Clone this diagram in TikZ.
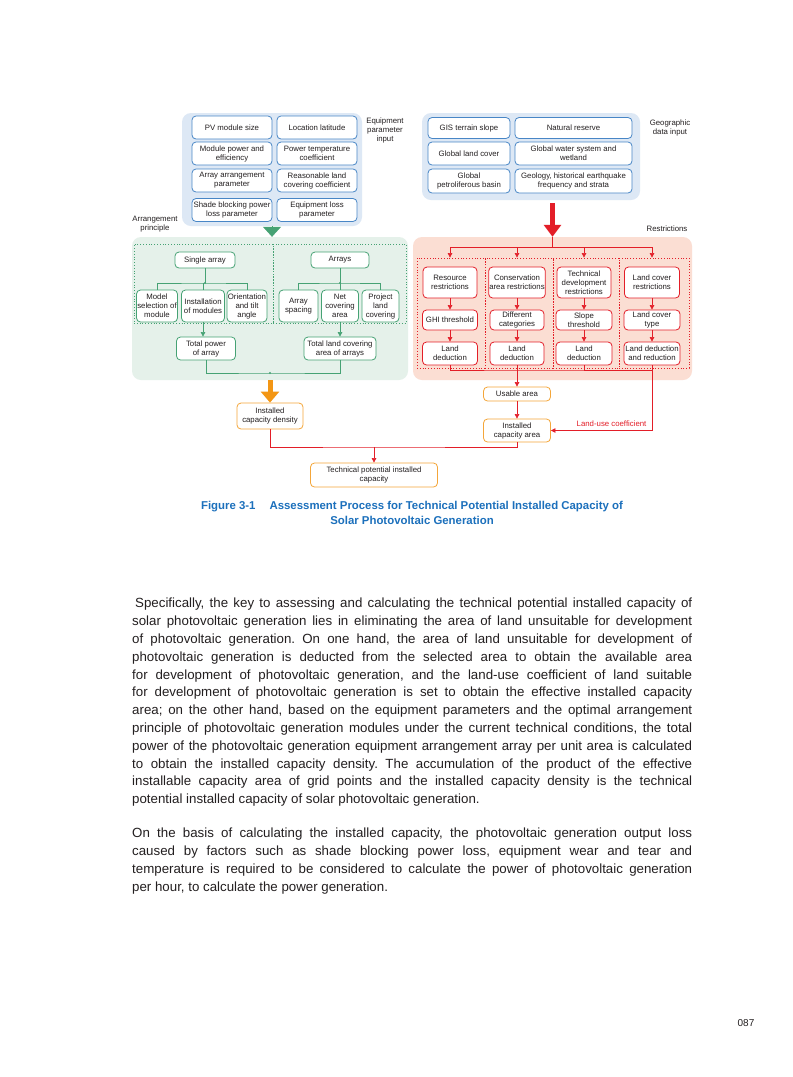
\documentclass[tikz,border=0pt]{standalone}
\usepackage{fontspec}
\setmainfont{Liberation Sans}
\usetikzlibrary{arrows.meta,positioning}
\definecolor{bluebg}{RGB}{221,232,245}
\definecolor{blueln}{RGB}{72,134,198}
\definecolor{greenbg}{RGB}{229,241,234}
\definecolor{greenln}{RGB}{70,162,116}
\definecolor{redbg}{RGB}{251,222,211}
\definecolor{redln}{RGB}{227,30,40}
\definecolor{orangeln}{RGB}{244,166,58}
\definecolor{orangear}{RGB}{243,150,20}
\definecolor{capblue}{RGB}{28,112,188}
\definecolor{inktext}{RGB}{35,31,32}
\frenchspacing
\begin{document}
\begin{tikzpicture}[x=1pt, y=-1pt, font=\fontsize{7.8}{9}\selectfont, text=inktext,
  panel/.style={rounded corners=9pt, inner sep=0pt},
  zone/.style={draw, dotted, line width=0.8pt, inner sep=0pt},
  box/.style={draw, fill=white, rounded corners=4pt, line width=0.8pt, align=center, inner sep=0.6pt},
  bbox/.style={box, draw=blueln, minimum width=80, minimum height=23},
  gbox/.style={box, draw=greenln, minimum height=32},
  rbox/.style={box, draw=redln},
  obox/.style={box, draw=orangeln},
  note/.style={align=center, inner sep=0pt},
  gline/.style={greenln, line width=0.6pt},
  rline/.style={redln, line width=0.6pt},
  garrow/.style={gline, -{Triangle[length=4.5pt,width=4.5pt]}},
  rarrow/.style={rline, -{Triangle[length=4.5pt,width=4.5pt]}}]
  \fill[white, use as bounding box] (0,0) rectangle (793,1077);

  \node[panel, fill=bluebg, minimum width=180, minimum height=113] (eqin) at (272,169.5) {};
  \node[panel, fill=bluebg, minimum width=218, minimum height=87] (geoin) at (531,156.5) {};
  \node[panel, fill=greenbg, minimum width=276, minimum height=143] (gpanel) at (270,308.5) {};
  \node[panel, fill=redbg, minimum width=279, minimum height=143] (rpanel) at (552.5,308.5) {};

  \node[bbox] (size) at (232,127.5) {PV module size};
  \node[bbox] (lat) at (317,127.5) {Location latitude};
  \node[bbox] (power) at (232,153.5) {Module power and\\efficiency};
  \node[bbox] (temp) at (317,153.5) {Power temperature\\coefficient};
  \node[bbox] (arrpar) at (232,180.5) {Array arrangement\\parameter};
  \node[bbox] (cover) at (317,180.5) {Reasonable land\\covering coefficient};
  \node[bbox] (shade) at (232,210) {Shade blocking power\\loss parameter};
  \node[bbox] (eqloss) at (317,210) {Equipment loss\\parameter};

  \node[bbox, minimum width=82, minimum height=21] (slope) at (469,128) {GIS terrain slope};
  \node[bbox, minimum width=117, minimum height=21] (reserve) at (573.5,128) {Natural reserve};
  \node[bbox, minimum width=82] (landcov) at (469,153.5) {Global land cover};
  \node[bbox, minimum width=117] (water) at (573.5,153.5) {Global water system and\\wetland};
  \node[bbox, minimum width=82, minimum height=24] (basin) at (469,181) {Global\\petroliferous basin};
  \node[bbox, minimum width=117, minimum height=24] (geology) at (573.5,181) {Geology, historical earthquake\\frequency and strata};

  \node[note] (eqlabel) at (385,130) {Equipment\\parameter\\input};
  \node[note] (geolabel) at (670,127.5) {Geographic\\data input};
  \node[note] (arrlabel) at (155,224) {Arrangement\\principle};
  \node[note] (restlabel) at (667,229) {Restrictions};

  \node[zone, draw=greenln, minimum width=139, minimum height=79] (zsingle) at (203.5,283.5) {};
  \node[zone, draw=greenln, minimum width=133, minimum height=79] (zarrays) at (339.5,283.5) {};
  \foreach \n/\x/\w in {zres/451/68, zcons/519/68, ztech/586/66, zland/654/70}
    \node[zone, draw=redln, minimum width=\w, minimum height=110] (\n) at (\x,313) {};

  \node[gbox, minimum width=60, minimum height=16] (single) at (205,260) {Single array};
  \node[gbox, minimum width=58, minimum height=16] (arrays) at (340,260) {Arrays};
  \node[gbox, minimum width=41] (model) at (157,306) {Model\\selection of\\module};
  \node[gbox, minimum width=43] (install) at (203,306) {Installation\\of modules};
  \node[gbox, minimum width=40] (orient) at (247,306) {Orientation\\and tilt\\angle};
  \node[gbox, minimum width=39] (spacing) at (298.5,306) {Array\\spacing};
  \node[gbox, minimum width=37] (netcov) at (340,306) {Net\\covering\\area};
  \node[gbox, minimum width=37] (project) at (380.5,306) {Project\\land\\covering};
  \node[gbox, minimum width=59, minimum height=23] (totpow) at (206,348.5) {Total power\\of array};
  \node[gbox, minimum width=72, minimum height=23] (totland) at (340,348.5) {Total land covering\\area of arrays};

  \node[rbox, minimum width=54, minimum height=31] (resr) at (450,282.5) {Resource\\restrictions};
  \node[rbox, minimum width=54, minimum height=31] (consr) at (517,282.5) {Conservation\\area restrictions};
  \node[rbox, minimum width=54, minimum height=31] (techr) at (584,282.5) {Technical\\development\\restrictions};
  \node[rbox, minimum width=55, minimum height=31] (landr) at (652,282.5) {Land cover\\restrictions};
  \node[rbox, minimum width=55, minimum height=20] (ghi) at (450,320) {GHI threshold};
  \node[rbox, minimum width=54, minimum height=20] (categ) at (517,320) {Different\\categories};
  \node[rbox, minimum width=56, minimum height=20] (slopet) at (584,320) {Slope\\threshold};
  \node[rbox, minimum width=56, minimum height=20] (lctype) at (652,320) {Land cover\\type};
  \node[rbox, minimum width=55, minimum height=23] (ded1) at (450,353.5) {Land\\deduction};
  \node[rbox, minimum width=54, minimum height=23] (ded2) at (517,353.5) {Land\\deduction};
  \node[rbox, minimum width=56, minimum height=23] (ded3) at (584,353.5) {Land\\deduction};
  \node[rbox, minimum width=56, minimum height=23] (ded4) at (652,353.5) {Land deduction\\and reduction};

  \node[obox, minimum width=66, minimum height=26] (capdens) at (270,416) {Installed\\capacity density};
  \node[obox, minimum width=67, minimum height=14] (usable) at (517,394) {Usable area};
  \node[obox, minimum width=67, minimum height=23] (caparea) at (517,430.5) {Installed\\capacity area};
  \node[obox, minimum width=127, minimum height=24] (techpot) at (374,475) {Technical potential installed\\capacity};

  \draw[greenln, line width=0.4pt, -{Triangle[length=10pt,width=18pt]}] (eqin.south) -- (eqin.south |- gpanel.north);
  \draw[redln, line width=4.5pt, -{Triangle[length=12pt,width=17pt]}, shorten <=3pt] (geoin.south -| rpanel.north) -- (rpanel.north);
  \draw[orangear, line width=5pt, -{Triangle[length=11pt,width=18pt]}] (gpanel.south) -- (capdens.north);

  \coordinate (lbar) at (205,283);
  \draw[gline] (single) -- (lbar);
  \draw[gline] (model.north) |- (lbar) -| (orient.north);
  \draw[gline] (lbar -| install) -- (install.north);
  \fill[greenln] (lbar) circle (1.2pt);
  \coordinate (abar) at (340,283);
  \draw[gline] (arrays) -- (abar);
  \draw[gline] (spacing.north) |- (abar) -| (project.north);
  \draw[gline] (abar) -- (netcov.north);
  \fill[greenln] (abar) circle (1.2pt);
  \draw[garrow] (install.south) -- (install.south |- totpow.north);
  \draw[garrow] (netcov) -- (totland);
  \coordinate (gbar) at (270,373);
  \draw[gline] (totpow.south) |- (gbar) -| (totland.south);
  \fill[greenln] (gbar) circle (1.2pt);

  \coordinate (rsplit) at (552.5,247);
  \draw[rline] (rpanel.north) -- (rsplit);
  \draw[rline] (rsplit -| resr) -- (rsplit -| landr);
  \foreach \n in {resr,consr,techr,landr} \draw[rarrow] (rsplit -| \n) -- (zres.north -| \n);
  \foreach \a/\b in {resr/ghi, ghi/ded1, consr/categ, categ/ded2, techr/slopet, slopet/ded3, landr/lctype, lctype/ded4}
    \draw[rarrow] (\a) -- (\b);
  \coordinate (dbar) at (517,370);
  \draw[rline] (ded1.south) |- (dbar) -| (ded4.south);
  \draw[rline] (ded3.south) -- (ded3.south |- dbar);
  \draw[rarrow] (ded2.south) -- (usable.north);
  \draw[rarrow] (usable) -- (caparea);
  \draw[rarrow] (ded4.south |- dbar) |- (caparea.east) node[pos=0.7, above, text=redln] {Land-use coefficient};
  \coordinate (obar) at (374,447);
  \draw[rline] (capdens.south) |- (obar) -| (caparea.south);
  \draw[rarrow] (obar) -- (techpot.north);

  \node[font=\fontsize{11.4}{15}\selectfont\bfseries, text=capblue, align=center] (caption) at (412,512.5)
    {Figure 3-1\hspace{14pt}Assessment Process for Technical Potential Installed Capacity of\\Solar Photovoltaic Generation};

  \node[font=\fontsize{13.3}{17.8}\selectfont, text width=560, align=justify, anchor=north west, inner sep=0pt] (body) at (132,598)
    {\hspace*{3pt}Specifically, the key to assessing and calculating the technical potential installed capacity of\linebreak
    solar photovoltaic generation lies in eliminating the area of land unsuitable for development\linebreak
    of photovoltaic generation. On one hand, the area of land unsuitable for development of\linebreak
    photovoltaic generation is deducted from the selected area to obtain the available area\linebreak
    for development of photovoltaic generation, and the land-use coefficient of land suitable\linebreak
    for development of photovoltaic generation is set to obtain the effective installed capacity\linebreak
    area; on the other hand, based on the equipment parameters and the optimal arrangement\linebreak
    principle of photovoltaic generation modules under the current technical conditions, the total\linebreak
    power of the photovoltaic generation equipment arrangement array per unit area is calculated\linebreak
    to obtain the installed capacity density. The accumulation of the product of the effective\linebreak
    installable capacity area of grid points and the installed capacity density is the technical\linebreak
    potential installed capacity of solar photovoltaic generation.\par\vspace{16.2pt}
    On the basis of calculating the installed capacity, the photovoltaic generation output loss\linebreak
    caused by factors such as shade blocking power loss, equipment wear and tear and\linebreak
    temperature is required to be considered to calculate the power of photovoltaic generation\linebreak
    per hour, to calculate the power generation.\par};

  \node[font=\fontsize{10}{12}\selectfont] (pageno) at (746,1023) {087};
\end{tikzpicture}
\end{document}
